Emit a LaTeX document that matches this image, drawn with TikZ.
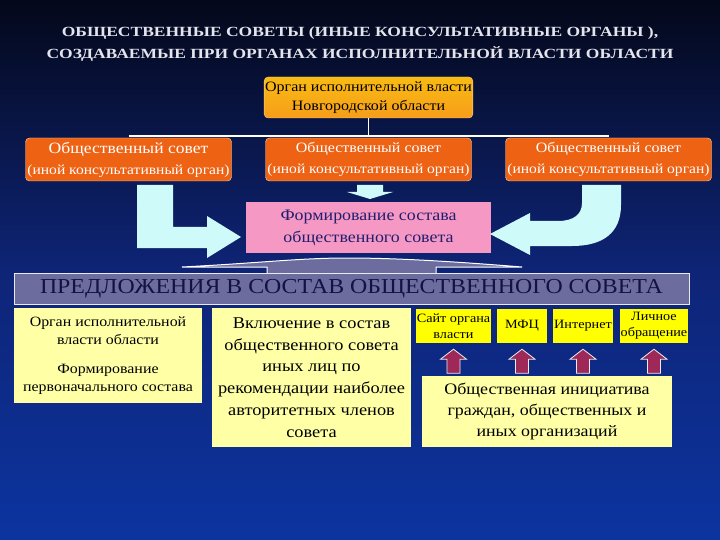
\documentclass[tikz,border=0pt]{standalone}
\usepackage{fontspec}
\setmainfont{Liberation Serif}[FakeStretch=1.12]
\newfontfamily\titlefont{Liberation Serif}[FakeStretch=1.25]
\usetikzlibrary{calc}
\definecolor{bgtop}{RGB}{4,8,26}
\definecolor{bgmid}{RGB}{14,36,118}
\definecolor{bgbot}{RGB}{12,52,160}
\definecolor{orgorange}{RGB}{246,158,26}
\definecolor{councilred}{RGB}{238,98,20}
\definecolor{formpink}{RGB}{246,152,196}
\definecolor{bannergray}{RGB}{108,108,158}
\definecolor{paleyellow}{RGB}{255,255,166}
\definecolor{brightyellow}{RGB}{255,255,0}
\definecolor{arrowcyan}{RGB}{206,250,250}
\definecolor{arrowmaroon}{RGB}{158,40,88}
\definecolor{inknavy}{RGB}{32,30,110}
\definecolor{titlegray}{RGB}{228,228,236}

\begin{document}
\begin{tikzpicture}[x=1pt, y=-1pt,
  orgbox/.style={top color=orgorange!70!yellow, bottom color=orgorange, draw=orange!40!white, rounded corners=4pt,
    minimum width=207pt, minimum height=41pt, align=center, inner sep=1pt,
    font=\fontsize{14.3}{19}\selectfont},
  councilbox/.style={fill=councilred, draw=orange!30!white, rounded corners=4pt,
    minimum width=206pt, minimum height=43pt, align=center, inner sep=1pt,
    text=white, font=\fontsize{13.9}{21}\selectfont},
  formbox/.style={fill=formpink, minimum width=245pt, minimum height=51pt,
    align=center, text=inknavy, font=\fontsize{16}{22}\selectfont},
  banner/.style={fill=bannergray, draw=white!85!bannergray, line width=1pt,
    minimum width=675pt, minimum height=31pt, text=inknavy!60!black,
    font=\fontsize{21.3}{22}\selectfont},
  palebox/.style={fill=paleyellow, align=center, inner sep=1pt},
  smallbox/.style={fill=brightyellow, align=center, inner sep=0pt,
    minimum height=34pt, font=\fontsize{12.7}{16}\selectfont},
  linkline/.style={draw=white, line width=1.5pt},
  blockarrow/.style={fill=arrowcyan},
  uparrow/.style={fill=arrowmaroon, draw=white!85!gray, line width=0.8pt}]

\useasboundingbox (0,0) rectangle (720,540);
\shade[top color=bgtop, bottom color=bgbot, middle color=bgmid] (0,0) rectangle (720,540);

% title
\node[text=titlegray, align=center, font=\titlefont\bfseries\fontsize{14}{22}\selectfont] (title) at (360,44)
  {ОБЩЕСТВЕННЫЕ СОВЕТЫ (ИНЫЕ КОНСУЛЬТАТИВНЫЕ ОРГАНЫ ),\\
   СОЗДАВАЕМЫЕ ПРИ ОРГАНАХ ИСПОЛНИТЕЛЬНОЙ ВЛАСТИ ОБЛАСТИ};

% executive body and councils
\node[orgbox] (org) at (368.5,97.5) {Орган исполнительной власти\\Новгородской области};

\node[councilbox] (cL) at (128.5,159.5)
  {{\fontsize{15.7}{21}\selectfont Общественный совет}\\(иной консультативный орган)};
\node[councilbox] (cM) at (368.5,159.5)
  {{\fontsize{14.3}{21}\selectfont Общественный совет}\\(иной консультативный орган)};
\node[councilbox] (cR) at (608.5,159.5)
  {{\fontsize{14.3}{21}\selectfont Общественный совет}\\(иной консультативный орган)};

\coordinate (bar) at (368.5,136);
\draw[linkline] (org.south) -- (bar);
\draw[linkline] (cL.north |- bar) -- (cR.north |- bar);

% forming the council
\node[formbox] (form) at (368.5,227.5) {Формирование состава\\общественного совета};

\fill[blockarrow] (137,185) -- (173,185) -- (173,227) -- (207,227) -- (207,216)
  -- (241,237) -- (207,258) -- (207,248) -- (137,248) -- cycle;
\fill[blockarrow] (357,185) -- (383,185) -- (383,192) -- (393,192) -- (370,199)
  -- (347,192) -- (357,192) -- cycle;
\fill[blockarrow] (582,185) -- (621,185) -- (621,205) .. controls (621,232) and (604,246) .. (572,246)
  -- (530,246) -- (530,255) -- (490,234) -- (530,213) -- (530,221) -- (558,221)
  .. controls (574,221) and (582,214) .. (582,203) -- cycle;

% proposals
\draw[fill=bannergray, draw=white, line width=1pt] (182,267) .. controls (260,263) and (300,258) .. (347,258)
  .. controls (400,258) and (460,262) .. (522,267) -- (436,267) -- (436,274) -- (267,274) -- (267,267) -- cycle;
\node[banner] (prop) at (351.5,288.5) {ПРЕДЛОЖЕНИЯ В СОСТАВ ОБЩЕСТВЕННОГО СОВЕТА};

\node[palebox, minimum width=188pt, minimum height=95pt, font=\fontsize{14.2}{18}\selectfont] (exec) at (108,355.5)
  {Орган исполнительной\\власти области\\[11pt]Формирование\\первоначального состава};
\node[palebox, minimum width=199pt, minimum height=139pt, font=\fontsize{16.4}{21.8}\selectfont] (incl) at (311.5,377.5)
  {Включение в состав\\общественного совета\\иных лиц по\\рекомендации наиболее\\авторитетных членов\\совета};

\node[smallbox, minimum width=75pt] (site) at (453.5,326) {Сайт органа\\власти};
\node[smallbox, minimum width=50pt] (mfc) at (522,326) {МФЦ};
\node[smallbox, minimum width=60pt] (net) at (583,326) {Интернет};
\node[smallbox, minimum width=68pt] (pers) at (654,326) {Личное\\обращение};

\node[palebox, minimum width=250pt, minimum height=71pt, font=\fontsize{16}{21}\selectfont] (init) at (547,411.5)
  {Общественная инициатива\\граждан, общественных и\\иных организаций};

\foreach \n in {site,mfc,net,pers}
  \draw[uparrow] ($(\n.south)+(0,6)$) -- ($(\n.south)+(13,16)$) -- ($(\n.south)+(6.5,16)$)
    -- ($(\n.south)+(6.5,30)$) -- ($(\n.south)+(-6.5,30)$) -- ($(\n.south)+(-6.5,16)$)
    -- ($(\n.south)+(-13,16)$) -- cycle;

\end{tikzpicture}
\end{document}
